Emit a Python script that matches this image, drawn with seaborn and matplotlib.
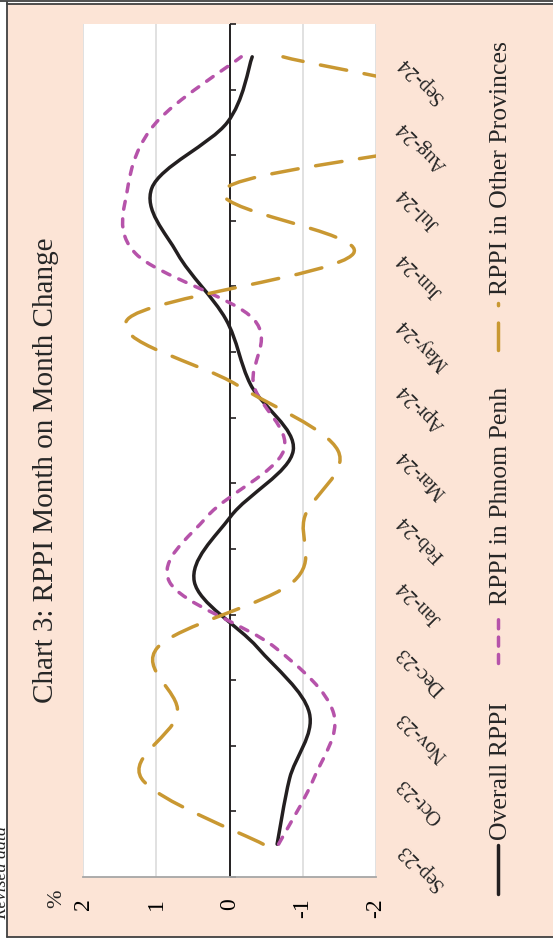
import numpy as np
import matplotlib
matplotlib.use('Agg')
import matplotlib.pyplot as plt
import matplotlib.transforms as mtransforms
from matplotlib.path import Path
from matplotlib.patches import PathPatch, Rectangle
from matplotlib.lines import Line2D
import seaborn as sns

# Chart data (monthly % change)
months = ['Sep-23', 'Oct-23', 'Nov-23', 'Dec-23', 'Jan-24', 'Feb-24', 'Mar-24',
          'Apr-24', 'May-24', 'Jun-24', 'Jul-24', 'Aug-24', 'Sep-24']
overall = [-0.65, -0.82, -1.09, -0.38, 0.48, -0.02, -0.87, -0.29, 0.05, 0.71, 1.06, 0.03, -0.31]
phnom_penh = [-0.67, -1.15, -1.42, -0.62, 0.82, 0.30, -0.74, -0.33, -0.33, 1.28, 1.39, 1.00, -0.16]
other_prov = [-0.46, 1.20, 0.71, 0.98, -0.87, -1.03, -1.48, -0.10, 1.39, -1.69, 0.05, -4.0, -0.73]
value_ticks = [2, 1, 0, -1, -2]
series_names = ['Overall RPPI', 'RPPI in Phnom Penh', 'RPPI in Other Provinces']

sns.set_style('white')
plt.rcParams['font.family'] = ['Liberation Serif', 'DejaVu Serif']

W, H = 553, 941
peach = '#FCE4D6'
c_black, c_pink, c_gold = '#231F20', '#B653AA', '#C99832'


def fx(x):
    return x / W


def fy(y):
    return 1 - y / H


def smooth_path(vals):
    # Excel-like smoothed line: cubic Bezier through each data point
    pts = np.column_stack([vals, np.arange(len(vals))]).astype(float)
    ext = np.vstack([pts[0], pts, pts[-1]])
    verts = [pts[0]]
    codes = [Path.MOVETO]
    for i in range(len(pts) - 1):
        p0, p1, p2, p3 = ext[i], ext[i + 1], ext[i + 2], ext[i + 3]
        verts += [p1 + (p2 - p0) / 6, p2 - (p3 - p1) / 6, p2]
        codes += [Path.CURVE4] * 3
    return Path(verts, codes)


fig = plt.figure(figsize=(W / 100, H / 100), dpi=100, facecolor='white')

# frame and background
fig.patches.append(Rectangle((fx(7), fy(937)), fx(553 - 7), (937 - 4) / H,
                             transform=fig.transFigure, facecolor=peach,
                             edgecolor='none', zorder=-5))
for xs, ys in [([7, 7], [2, 937]), ([7, 553], [937, 937]),
               ([0, 553], [1, 1]), ([7, 553], [4, 4])]:
    fig.add_artist(Line2D([fx(v) for v in xs], [fy(v) for v in ys],
                          transform=fig.transFigure, color='#404040', lw=1.3))

ax = fig.add_axes([fx(83), fy(877), fx(376 - 83), (877 - 24) / H])
ax.set_zorder(2)
ax.set_facecolor('white')
ax.set_xlim(2, -2)
ax.set_ylim(-0.5, len(months) - 0.5)

for v in value_ticks:
    if v != 0:
        ax.axvline(v, color='#D9D9D9', lw=1.1, zorder=1)
ax.axvline(0, color=c_black, lw=1.4, zorder=2)
ax.plot(np.zeros(len(months) + 1), np.arange(len(months) + 1) - 0.5,
        linestyle='none', marker=1, markersize=4.5, markeredgewidth=1.2,
        color=c_black, clip_on=False, zorder=2)

styles = [
    (overall, c_black, '-'),
    (phnom_penh, c_pink, (0, (2.3, 2.8))),
    (other_prov, c_gold, (0, (7.7, 5.1))),
]
for vals, col, ls in styles:
    patch = PathPatch(smooth_path(vals), facecolor='none', edgecolor=col,
                      lw=2.5, linestyle=ls, zorder=3)
    patch.set_capstyle('round')
    patch.set_joinstyle('round')
    ax.add_patch(patch)

for side in ['top', 'left', 'right']:
    ax.spines[side].set_visible(False)
ax.spines['bottom'].set_color('#A6A6A6')
ax.spines['bottom'].set_linewidth(1.3)
ax.set_yticks([])
ax.set_xticks(value_ticks)
ax.set_xticklabels([str(v) for v in value_ticks])
ax.tick_params(axis='x', direction='out', length=4.3, width=1.1, color='#A6A6A6',
               labelsize=17, labelrotation=90, pad=11, labelcolor='black')

# category labels
blend = mtransforms.blended_transform_factory(ax.transAxes, ax.transData)
for i, m in enumerate(months):
    ax.text(1.085, i - 0.03, m, transform=blend, rotation=135,
            rotation_mode='anchor', ha='right', va='center', fontsize=14.5,
            clip_on=False)

# title and axis unit
fig.text(fx(53), fy(703), 'Chart 3: RPPI Month on Month Change', rotation=90,
         rotation_mode='anchor', ha='left', va='baseline', fontsize=21)
fig.text(fx(57), fy(899), '%', rotation=90, ha='center', va='center', fontsize=16)
fig.text(fx(6), fy(826), '* Revised data', rotation=90, rotation_mode='anchor',
         ha='right', va='baseline', fontsize=13, style='italic')

# legend
legend_items = [
    (series_names[0], c_black, '-', 894, 845, 840),
    (series_names[1], c_pink, (0, (2.6, 2.4)), 663, 618, 605),
    (series_names[2], c_gold, (0, (7.9, 5.0)), 350, 303, 295),
]
for name, col, ls, y0, y1, ytxt in legend_items:
    ln = Line2D([fx(497.7), fx(497.7)], [fy(y0), fy(y1)], transform=fig.transFigure,
                color=col, lw=2.5, linestyle=ls, solid_capstyle='round',
                dash_capstyle='round')
    fig.add_artist(ln)
    fig.text(fx(507), fy(ytxt), name, rotation=90, rotation_mode='anchor',
             ha='left', va='baseline', fontsize=18.5)

fig.savefig('out.png', dpi=100)
